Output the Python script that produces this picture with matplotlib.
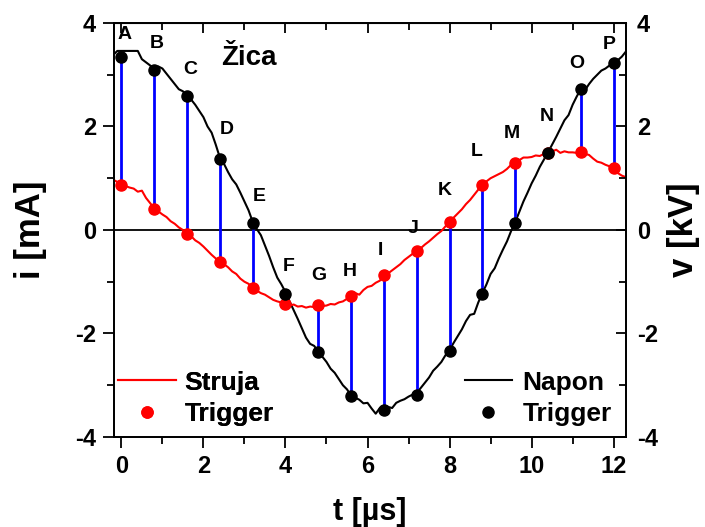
import numpy as np
import matplotlib
matplotlib.use('Agg')
import matplotlib.pyplot as plt

plt.rcParams['font.family'] = ['Liberation Sans', 'DejaVu Sans']
plt.rcParams['font.weight'] = 'bold'
plt.rcParams['axes.unicode_minus'] = False

# sample times [us] for both traces
t = [-0.2, -0.1, 0.0, 0.1, 0.2, 0.3, 0.4, 0.5, 0.6, 0.7, 0.8, 0.9, 1.0, 1.1,
     1.2, 1.3, 1.4, 1.5, 1.6, 1.7, 1.8, 1.9, 2.0, 2.1, 2.2, 2.3, 2.4, 2.5,
     2.6, 2.7, 2.8, 2.9, 3.0, 3.1, 3.2, 3.3, 3.4, 3.5, 3.6, 3.7, 3.8, 3.9,
     4.0, 4.1, 4.2, 4.3, 4.4, 4.5, 4.6, 4.7, 4.8, 4.9, 5.0, 5.1, 5.2, 5.3,
     5.4, 5.5, 5.6, 5.7, 5.8, 5.9, 6.0, 6.1, 6.2, 6.3, 6.4, 6.5, 6.6, 6.7,
     6.8, 6.9, 7.0, 7.1, 7.2, 7.3, 7.4, 7.5, 7.6, 7.7, 7.8, 7.9, 8.0, 8.1,
     8.2, 8.3, 8.4, 8.5, 8.6, 8.7, 8.8, 8.9, 9.0, 9.1, 9.2, 9.3, 9.4, 9.5,
     9.6, 9.7, 9.8, 9.9, 10.0, 10.1, 10.2, 10.3, 10.4, 10.5, 10.6, 10.7,
     10.8, 10.9, 11.0, 11.1, 11.2, 11.3, 11.4, 11.5, 11.6, 11.7, 11.8, 11.9,
     12.0, 12.1, 12.2, 12.3]

# current (red), i [mA]
i_vals = [0.97, 0.93, 0.88, 0.85, 0.82, 0.80, 0.74, 0.76, 0.62, 0.52, 0.42,
          0.36, 0.30, 0.25, 0.17, 0.12, 0.05, 0.00, -0.08, -0.12, -0.20,
          -0.25, -0.32, -0.40, -0.48, -0.55, -0.62, -0.66, -0.72, -0.80,
          -0.85, -0.94, -1.00, -1.04, -1.12, -1.17, -1.22, -1.25, -1.30,
          -1.35, -1.38, -1.40, -1.43, -1.46, -1.44, -1.48, -1.47, -1.50,
          -1.48, -1.49, -1.45, -1.47, -1.46, -1.43, -1.44, -1.40, -1.38,
          -1.33, -1.28, -1.22, -1.25, -1.16, -1.10, -1.08, -1.02, -0.98,
          -0.87, -0.84, -0.78, -0.72, -0.66, -0.58, -0.52, -0.46, -0.40,
          -0.35, -0.28, -0.22, -0.15, -0.08, -0.02, 0.07, 0.15, 0.24, 0.32,
          0.40, 0.50, 0.58, 0.68, 0.78, 0.87, 0.94, 1.00, 1.04, 1.08, 1.12,
          1.18, 1.26, 1.29, 1.35, 1.40, 1.40, 1.41, 1.44, 1.43, 1.47, 1.48,
          1.52, 1.55, 1.49, 1.52, 1.50, 1.50, 1.49, 1.50, 1.47, 1.45, 1.38,
          1.32, 1.30, 1.26, 1.23, 1.19, 1.10, 1.05, 1.02]

# voltage (black), v [kV]
v_vals = [3.38, 3.46, 3.46, 3.46, 3.46, 3.46, 3.46, 3.30, 3.24, 3.18, 3.10,
          3.16, 3.12, 3.02, 2.92, 2.82, 2.72, 2.68, 2.59, 2.52, 2.42, 2.30,
          2.18, 2.00, 1.88, 1.65, 1.40, 1.28, 1.12, 0.98, 0.88, 0.72, 0.55,
          0.38, 0.16, 0.02, -0.10, -0.30, -0.50, -0.72, -0.92, -1.05, -1.20,
          -1.38, -1.55, -1.72, -1.90, -2.08, -2.20, -2.24, -2.35, -2.45,
          -2.55, -2.68, -2.76, -2.88, -3.00, -3.08, -3.20, -3.24, -3.28,
          -3.35, -3.34, -3.45, -3.55, -3.44, -3.48, -3.42, -3.44, -3.34,
          -3.30, -3.27, -3.22, -3.18, -3.15, -3.05, -2.95, -2.85, -2.72,
          -2.64, -2.55, -2.42, -2.32, -2.18, -2.05, -1.92, -1.76, -1.64,
          -1.62, -1.40, -1.22, -1.05, -0.85, -0.74, -0.55, -0.38, -0.22,
          -0.02, 0.15, 0.35, 0.55, 0.72, 0.90, 1.05, 1.22, 1.36, 1.50, 1.65,
          1.80, 1.96, 2.12, 2.22, 2.42, 2.58, 2.72, 2.70, 2.82, 2.92, 3.00,
          3.08, 3.12, 3.18, 3.22, 3.28, 3.35, 3.45]

# trigger points A..P
t_trig = [0.0, 0.8, 1.6, 2.4, 3.2, 4.0, 4.8, 5.6, 6.4, 7.2, 8.0, 8.8, 9.6,
          10.4, 11.2, 12.0]
i_trig = [0.87, 0.40, -0.08, -0.62, -1.12, -1.43, -1.44, -1.28, -0.87, -0.40,
          0.15, 0.87, 1.29, 1.48, 1.50, 1.19]
v_trig = [3.34, 3.09, 2.59, 1.37, 0.14, -1.24, -2.35, -3.21, -3.47, -3.19,
          -2.34, -1.24, 0.13, 1.48, 2.72, 3.22]
letters = list('ABCDEFGHIJKLMNOP')
lab_x = [0.09, 0.86, 1.67, 2.57, 3.35, 4.08, 4.81, 5.56, 6.31, 7.12, 7.89,
         8.67, 9.52, 10.37, 11.1, 11.9]
lab_y = [3.77, 3.61, 3.11, 1.95, 0.64, -0.71, -0.87, -0.81, -0.39, 0.03,
         0.77, 1.51, 1.87, 2.19, 3.22, 3.58]

fig = plt.figure(figsize=(7.05, 5.27), dpi=100)
ax = fig.add_axes([0.1617, 0.1708, 0.7262, 0.7856])
ax2 = ax.twinx()

ax.axhline(0, color='black', lw=1.3, zorder=1)
ax.plot(t, v_vals, color='black', lw=1.5, zorder=2)
ax.plot(t, i_vals, color='red', lw=1.5, zorder=3)
ax.vlines(t_trig, i_trig, v_trig, color='blue', lw=2, zorder=4)
ax.plot(t_trig, i_trig, 'o', color='red', ms=8, zorder=5)
ax.plot(t_trig, v_trig, 'o', color='black', ms=8, zorder=6)

for s, x, y in zip(letters, lab_x, lab_y):
    ax.text(x, y, s, fontsize=14, fontweight='bold', ha='center', va='center')
ax.text(3.1, 3.33, 'Žica', fontsize=20, fontweight='bold', ha='center', va='center')

ax.set_xlim(-0.18, 12.3)
ax.set_ylim(-4, 4)
ax2.set_ylim(-4, 4)
ax.set_xticks([0, 2, 4, 6, 8, 10, 12])
ax.set_xticks(np.arange(0, 13, 1), minor=True)
ax.set_yticks([-4, -2, 0, 2, 4])
ax.set_yticks(np.arange(-4, 5, 1), minor=True)
ax2.set_yticks([-4, -2, 0, 2, 4])
ax2.set_yticks(np.arange(-4, 5, 1), minor=True)

for a in (ax, ax2):
    for sp in a.spines.values():
        sp.set_linewidth(1.3)
ax.tick_params(which='major', direction='out', length=8, width=1.3, labelsize=17, pad=5)
ax.tick_params(which='minor', direction='out', length=5, width=1.3)
ax2.tick_params(which='major', direction='in', length=7, width=1.3, labelsize=17, pad=8)
ax2.tick_params(which='minor', direction='in', length=5, width=1.3)

top = ax.secondary_xaxis('top')
top.set_xticks([0, 2, 4, 6, 8, 10, 12])
top.set_xticks(np.arange(0, 13, 1), minor=True)
top.tick_params(which='major', direction='in', length=7, width=1.3, labelsize=0)
top.tick_params(which='minor', direction='in', length=5, width=1.3)
top.set_xticklabels([])

ax.set_xlabel('t [µs]', fontsize=22, fontweight='bold', labelpad=14)
ax.set_ylabel('i [mA]', fontsize=25, fontweight='bold', labelpad=20)
ax2.set_ylabel('v [kV]', fontsize=25, fontweight='bold', labelpad=6)

prop = {'weight': 'bold', 'size': 19}
h1, = ax.plot([], [], color='red', lw=1.5)
h2, = ax.plot([], [], 'o', color='red', ms=8)
leg1 = ax.legend([h1, h2], ['Struja', 'Trigger'], loc='lower left',
                 bbox_to_anchor=(-0.012, 0.0), frameon=False, prop=prop,
                 handlelength=2.2, handletextpad=0.3, labelspacing=0.3,
                 borderpad=0.2, borderaxespad=0.2)
ax.add_artist(leg1)
h3, = ax.plot([], [], color='black', lw=1.5)
h4, = ax.plot([], [], 'o', color='black', ms=8)
ax2.legend([h3, h4], ['Napon', 'Trigger'], loc='lower left',
           bbox_to_anchor=(0.664, 0.0), frameon=False, prop=prop,
           handlelength=1.8, handletextpad=0.4, labelspacing=0.3,
           borderpad=0.2, borderaxespad=0.2)

fig.savefig('out.png', dpi=100)
